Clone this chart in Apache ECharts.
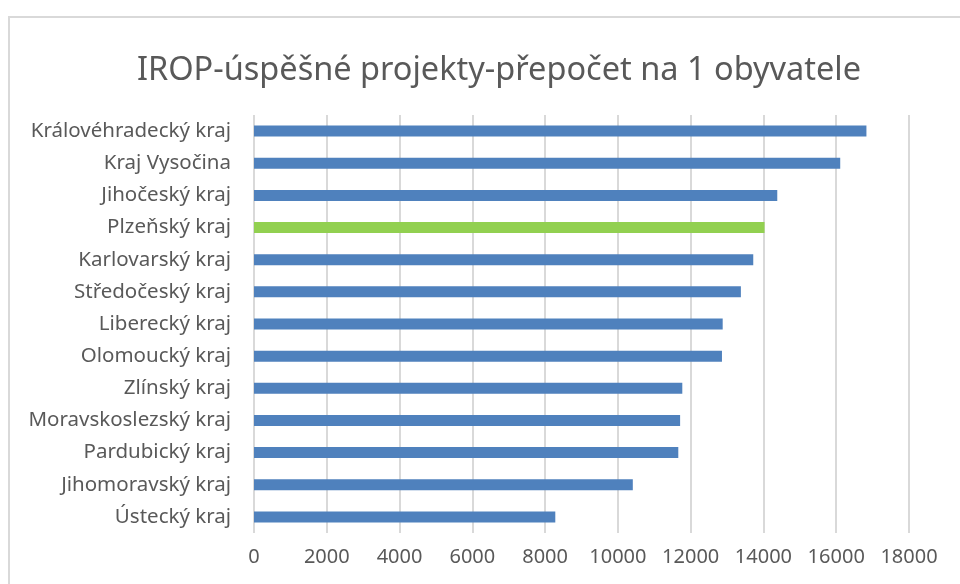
<!DOCTYPE html>
<html>
<head>
<meta charset="utf-8">
<script src="https://cdn.jsdelivr.net/npm/echarts@6/dist/echarts.min.js"></script>
<style>
html,body{margin:0;padding:0;background:#fff;width:960px;height:584px;overflow:hidden;}
#frame{position:absolute;left:8px;top:16px;width:1000px;height:1000px;border:2px solid #d9d9d9;box-sizing:border-box;}
#chart{position:absolute;left:0;top:0;width:960px;height:584px;}
</style>
</head>
<body>
<div id="frame"></div>
<div id="chart"></div>
<script>
const titleText = 'IROP-úspěšné projekty-přepočet na 1 obyvatele';
const categories = ['Královéhradecký kraj','Kraj Vysočina','Jihočeský kraj','Plzeňský kraj','Karlovarský kraj','Středočeský kraj','Liberecký kraj','Olomoucký kraj','Zlínský kraj','Moravskoslezský kraj','Pardubický kraj','Jihomoravský kraj','Ústecký kraj'];
const values = [16830,16110,14380,14030,13720,13380,12880,12860,11770,11710,11660,10410,8280];
const highlighted = 'Plzeňský kraj';
const xTicks = [0,2000,4000,6000,8000,10000,12000,14000,16000,18000];

const chart = echarts.init(document.getElementById('chart'), null, {renderer:'canvas'});
const font = 'Noto Sans';
chart.setOption({
  backgroundColor:'transparent',
  animation:false,
  title:{text:titleText,left:494,top:49,textAlign:'center',
    textStyle:{fontFamily:font,fontSize:32.5,fontWeight:'normal',color:'#595959'}},
  grid:{left:254,right:51,top:115,bottom:51,containLabel:false},
  xAxis:{type:'value',min:xTicks[0],max:xTicks[xTicks.length-1],interval:2000,
    axisLine:{show:false},axisTick:{show:false},
    splitLine:{show:true,lineStyle:{color:'#d9d9d9',width:2}},
    axisLabel:{margin:14,fontFamily:font,fontSize:20,color:'#595959',formatter:v=>String(v)}},
  yAxis:{type:'category',data:categories,inverse:true,
    axisLine:{show:false},axisTick:{show:false},
    axisLabel:{margin:23,fontFamily:font,fontSize:20.5,color:'#595959'}},
  series:[{type:'bar',barWidth:11,
    data:values.map((v,i)=>({value:v,itemStyle:{color:categories[i]===highlighted?'#92d050':'#4f81bd'}}))}]
});
</script>
</body>
</html>
